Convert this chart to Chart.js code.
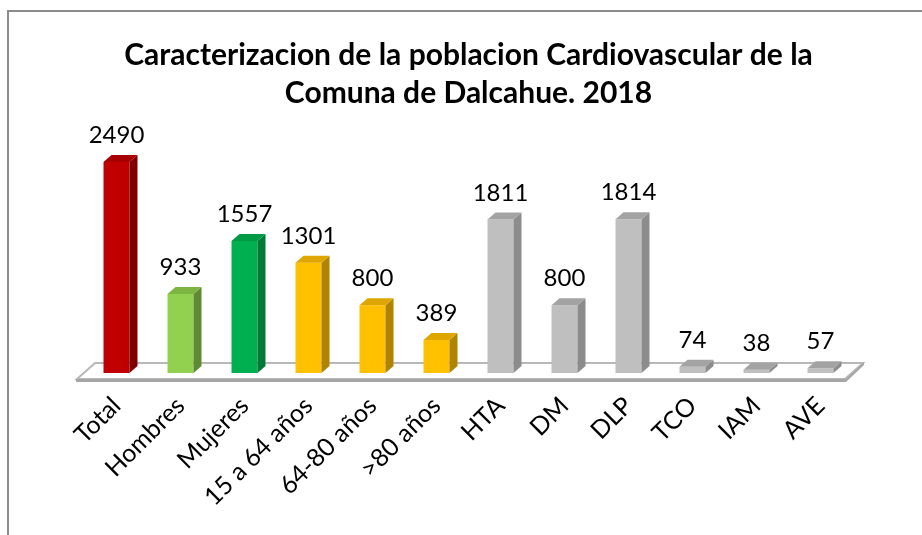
<!DOCTYPE html>
<html>
<head>
<meta charset="utf-8">
<title>Caracterizacion Cardiovascular Dalcahue 2018</title>
<script src="https://cdn.jsdelivr.net/npm/chart.js"></script>
<style>
    body { margin: 0; background: #fff; }
    #chartContainer {
        position: relative;
        width: 922px;
        height: 535px;
    }
    #frame {
        position: absolute;
        left: 7px; top: 10px; right: 0; bottom: 0;
        border-left: 2px solid #8c8c8c;
        border-top: 2px solid #8c8c8c;
        pointer-events: none;
    }
</style>
</head>
<body>
<div id="chartContainer">
    <canvas id="myChart"></canvas>
    <div id="frame"></div>
</div>

<script>
var categories = ['Total', 'Hombres', 'Mujeres', '15 a 64 años', '64-80 años', '>80 años',
                  'HTA', 'DM', 'DLP', 'TCO', 'IAM', 'AVE'];
var values = [2490, 933, 1557, 1301, 800, 389, 1811, 800, 1814, 74, 38, 57];
var yMin = 0;
var yMax = 2500;

// front / side / top face colours per bar
var frontColors = ['#C00000', '#92D050', '#00B050', '#FFC000', '#FFC000', '#FFC000',
                   '#BFBFBF', '#BFBFBF', '#BFBFBF', '#BFBFBF', '#BFBFBF', '#BFBFBF'];
var sideColors = ['#7E0000', '#5E8A32', '#007A36', '#B08400', '#B08400', '#B08400',
                  '#8C8C8C', '#8C8C8C', '#8C8C8C', '#8C8C8C', '#8C8C8C', '#8C8C8C'];
var topColors = ['#A80000', '#7DB542', '#009944', '#E0A600', '#E0A600', '#E0A600',
                 '#A3A3A3', '#A3A3A3', '#A3A3A3', '#A3A3A3', '#A3A3A3', '#A3A3A3'];

var depthX = 8;
var depthY = 7;

// fake 3D: floor under the bars, side + top faces and value labels
var bars3d = {
    id: 'bars3d',
    beforeDatasetsDraw: function(chart) {
        var a = chart.chartArea;
        var c = chart.ctx;
        var fl = a.left - 7.5, fr = a.right - 7.5, fy = a.bottom + 6;
        var bl = fl + 18, br = fr + 18, by = fy - 16;
        c.save();
        c.beginPath();
        c.moveTo(fl, fy);
        c.lineTo(bl, by);
        c.lineTo(br, by);
        c.lineTo(fr, fy);
        c.closePath();
        c.fillStyle = '#ffffff';
        c.fill();
        c.lineWidth = 2;
        c.strokeStyle = '#b8b8b8';
        c.stroke();
        // front edge thickness
        c.fillStyle = '#a6a6a6';
        c.fillRect(fl - 1, fy, fr - fl + 2, 3);
        c.beginPath();
        c.moveTo(fr + 1, fy + 3);
        c.lineTo(br + 1, by + 2);
        c.lineTo(br + 1, by - 1);
        c.lineTo(fr + 1, fy);
        c.closePath();
        c.fill();
        c.restore();
    },
    afterDatasetsDraw: function(chart) {
        var c = chart.ctx;
        var meta = chart.getDatasetMeta(0);
        c.save();
        meta.data.forEach(function(bar, i) {
            var p = bar.getProps(['x', 'y', 'base', 'width'], true);
            var l = p.x - p.width / 2;
            var r = p.x + p.width / 2;
            c.fillStyle = sideColors[i];
            c.beginPath();
            c.moveTo(r, p.y);
            c.lineTo(r + depthX, p.y - depthY);
            c.lineTo(r + depthX, p.base - depthY);
            c.lineTo(r, p.base);
            c.closePath();
            c.fill();
            c.fillStyle = topColors[i];
            c.beginPath();
            c.moveTo(l, p.y);
            c.lineTo(l + depthX, p.y - depthY);
            c.lineTo(r + depthX, p.y - depthY);
            c.lineTo(r, p.y);
            c.closePath();
            c.fill();

            c.fillStyle = '#000000';
            c.font = '24px Lato';
            c.textAlign = 'center';
            c.textBaseline = 'alphabetic';
            c.fillText(String(values[i]), p.x, p.y - 19);
        });
        c.restore();
    }
};

var ctx = document.getElementById('myChart').getContext('2d');

var chart = new Chart(ctx, {
    type: 'bar',
    data: {
        labels: categories,
        datasets: [{
            label: 'Poblacion',
            data: values,
            backgroundColor: frontColors,
            borderWidth: 0,
            categoryPercentage: 1,
            barPercentage: 0.406
        }]
    },
    plugins: [bars3d],
    options: {
        responsive: true,
        maintainAspectRatio: false,
        animation: false,
        layout: {
            padding: { left: 84.5, right: 69.5, top: 0, bottom: 0 }
        },
        plugins: {
            legend: { display: false },
            tooltip: { enabled: false },
            title: {
                display: true,
                text: ['Caracterizacion de la poblacion Cardiovascular de la', 'Comuna de Dalcahue. 2018'],
                color: '#000000',
                font: { family: 'Lato', size: 30, weight: 'bold', lineHeight: 1.27 },
                padding: { top: 36, bottom: 49 }
            }
        },
        scales: {
            x: {
                grid: { display: false, drawTicks: false },
                border: { display: false },
                ticks: {
                    color: '#000000',
                    font: { family: 'Lato', size: 25 },
                    autoSkip: false,
                    maxRotation: 45,
                    minRotation: 45,
                    padding: 18
                },
                afterFit: function(scale) {
                    scale.paddingLeft = 0;
                    scale.paddingRight = 0;
                    scale.height = 162;
                }
            },
            y: {
                display: false,
                min: yMin,
                max: yMax
            }
        }
    }
});
</script>
</body>
</html>
